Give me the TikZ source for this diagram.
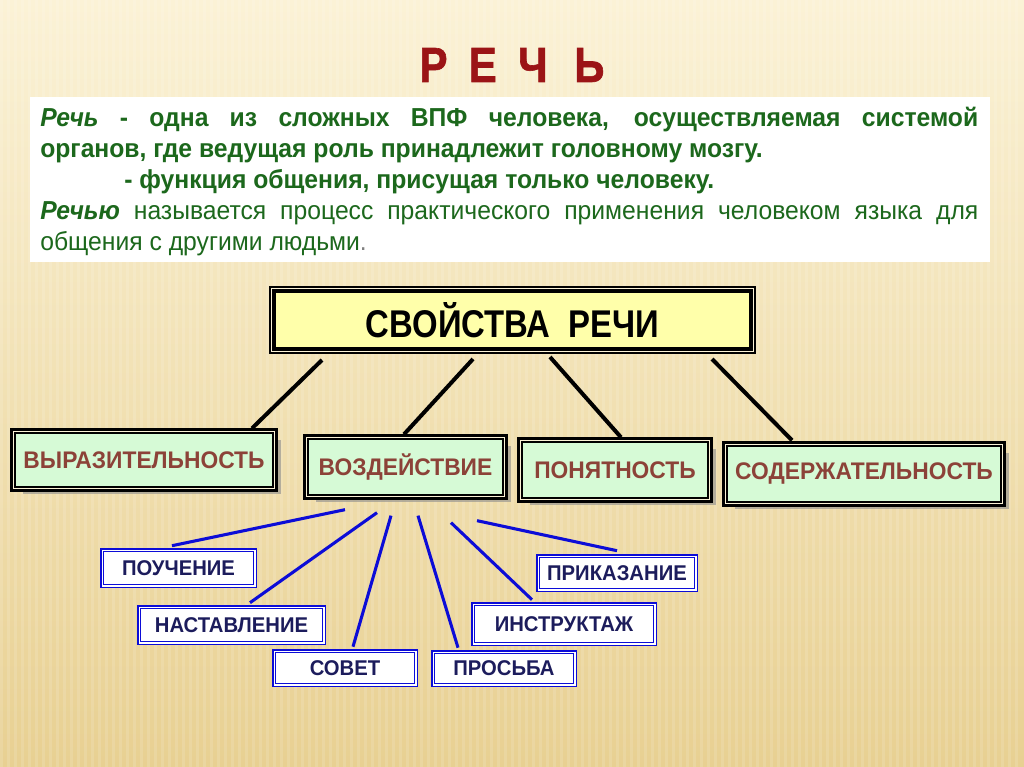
\documentclass[tikz,border=0pt]{standalone}
\usepackage{fontspec}
\setmainfont{Liberation Sans}
\newfontfamily\narrowsf[FakeStretch=0.85]{Liberation Sans}
\newfontfamily\slimsf[FakeStretch=0.95]{Liberation Sans}
\newfontfamily\heavysf[FakeStretch=0.85,FakeBold=1.2]{Liberation Sans}
\usepackage{tikz}
\usetikzlibrary{calc,shadows}
\definecolor{bgtop}{RGB}{251,242,214}
\definecolor{bgbot}{RGB}{232,208,146}
\definecolor{rechred}{RGB}{155,20,22}
\definecolor{textgreen}{RGB}{28,104,28}
\definecolor{boxyellow}{RGB}{255,255,170}
\definecolor{boxgreen}{RGB}{214,250,214}
\definecolor{labelbrown}{RGB}{140,66,56}
\definecolor{linkblue}{RGB}{12,12,215}
\definecolor{navytext}{RGB}{28,28,92}

\tikzset{
  mainbox/.style={fill=boxyellow, draw=black, line width=3pt,
    preaction={draw=black, line width=7.5pt},
    preaction={draw=bgtop, line width=4.5pt},
    font=\narrowsf\bfseries\fontsize{29}{32}\selectfont, inner sep=0pt},
  propbox/.style={fill=boxgreen, draw=black, line width=1pt,
    drop shadow={shadow xshift=6pt, shadow yshift=-5pt, fill=black!45, opacity=0.6},
    preaction={draw=black, line width=7.5pt},
    preaction={draw=bgtop, line width=3pt},
    text=labelbrown, font=\slimsf\bfseries\fontsize{18}{20}\selectfont, inner sep=0pt},
  kindbox/.style={fill=white, draw=linkblue, line width=1.2pt,
    preaction={draw=linkblue, line width=5pt},
    preaction={draw=white, line width=3pt},
    text=navytext, font=\slimsf\bfseries\fontsize{16}{18}\selectfont, inner sep=0pt},
  propline/.style={black, line width=3pt},
  kindline/.style={linkblue, line width=2.3pt},
  txtline/.style={anchor=base west, inner sep=0pt, text=textgreen,
    font=\slimsf\fontsize{19.5}{22}\selectfont}
}

\begin{document}
\begin{tikzpicture}[x=0.75pt, y=-0.75pt]
\useasboundingbox (0,0) rectangle (1024,767);
\shade[top color=bgtop, bottom color=bgbot] (0,0) rectangle (1024,767);
\foreach \i in {0,7,...,1020}
  \fill[white, opacity=0.13] (\i,0) rectangle (\i+3,767);

% title
\node[text=rechred, font=\heavysf\bfseries\fontsize{37}{40}\selectfont] (title) at (512,65)
  {Р\hspace{16pt}Е\hspace{16pt}Ч\hspace{20pt}Ь};

% definition
\fill[white] (30,97) rectangle (990,262);
\node[txtline] (def1) at (40,126) {\makebox[703.5pt][s]{\textbf{\textit{Речь}} \textbf{- одна из сложных ВПФ человека, осуществляемая системой}}};
\node[txtline] (def2) at (40,157) {\textbf{органов, где ведущая роль принадлежит головному мозгу.}};
\node[txtline] (def3) at (124,188) {\textbf{- функция общения, присущая только человеку.}};
\node[txtline] (def4) at (40,219) {\makebox[703.5pt][s]{\textbf{\textit{Речью}} называется процесс практического применения человеком языка для}};
\node[txtline] (def5) at (40,250) {общения с другими людьми{\color{gray}.}};

% properties
\node[mainbox, minimum width=357.75pt, minimum height=43.5pt] (props) at (512.5,320) {СВОЙСТВА\ \ РЕЧИ};

\node[propbox, minimum width=193.5pt, minimum height=40.5pt] (vyr) at (144,460) {ВЫРАЗИТЕЛЬНОСТЬ};
\node[propbox, minimum width=146.25pt, minimum height=42pt] (voz) at (405.5,467) {ВОЗДЕЙСТВИЕ};
\node[propbox, minimum width=139.5pt, minimum height=42pt] (pon) at (615,470) {ПОНЯТНОСТЬ};
\node[propbox, minimum width=205.5pt, minimum height=42pt] (sod) at (864,474) {СОДЕРЖАТЕЛЬНОСТЬ};

\draw[propline] ($(props.south)+(-190.5,9)$) -- ($(vyr.north)+(108,-4)$);
\draw[propline] ($(props.south)+(-39.5,8)$) -- ($(voz.north)+(-1.5,-4)$);
\draw[propline] ($(props.south)+(37.5,6)$) -- ($(pon.north)+(6,-4)$);
\draw[propline] ($(props.south)+(199.5,8)$) -- ($(sod.north)+(-72,-5)$);

% kinds of influence
\node[kindbox, minimum width=112.5pt, minimum height=24.75pt] (pouch) at (178.5,568) {ПОУЧЕНИЕ};
\node[kindbox, minimum width=136.5pt, minimum height=24.75pt] (nast) at (231.5,625) {НАСТАВЛЕНИЕ};
\node[kindbox, minimum width=104.25pt, minimum height=23.25pt] (sovet) at (345,668) {СОВЕТ};
\node[kindbox, minimum width=104.25pt, minimum height=22.5pt] (prosba) at (504,668.5) {ПРОСЬБА};
\node[kindbox, minimum width=134.25pt, minimum height=27.75pt] (instr) at (564,624) {ИНСТРУКТАЖ};
\node[kindbox, minimum width=116.25pt, minimum height=23.25pt] (prik) at (617,573) {ПРИКАЗАНИЕ};

\draw[kindline] ($(voz.south)+(-60.5,14)$) -- ($(pouch.north)+(-6.5,-5)$);
\draw[kindline] ($(voz.south)+(-28.5,17)$) -- ($(nast.north)+(18.5,-5)$);
\draw[kindline] ($(voz.south)+(-14.5,20)$) -- ($(sovet.north)+(8,-5)$);
\draw[kindline] ($(voz.south)+(12.5,20)$) -- ($(prosba.north)+(-46,-5)$);
\draw[kindline] ($(voz.south)+(45.5,27)$) -- ($(instr.north)+(-32,-5)$);
\draw[kindline] ($(voz.south)+(71.5,25)$) -- ($(prik.north)+(0,-6)$);
\end{tikzpicture}
\end{document}
